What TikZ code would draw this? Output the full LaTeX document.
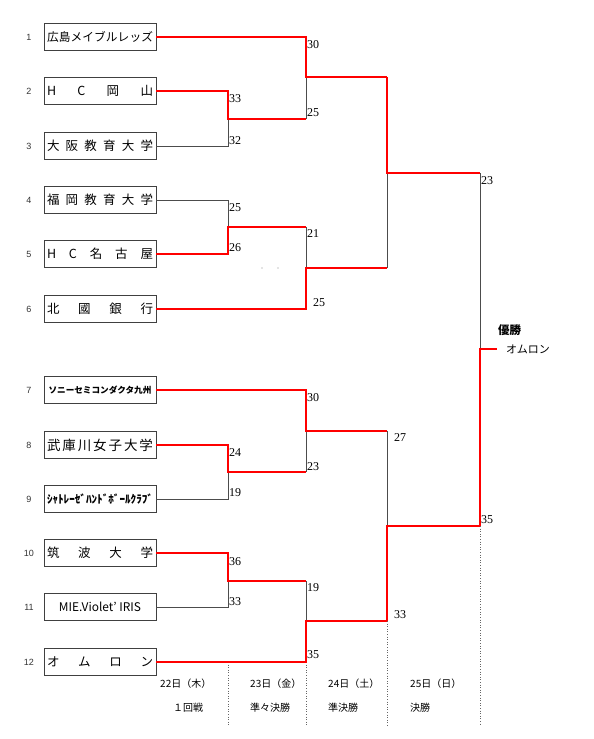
\documentclass[tikz,border=0pt]{standalone}
\usepackage{fontspec}
\usepackage{graphicx}
\newfontfamily\jp{Noto Sans CJK JP}
\newfontfamily\scorefont{Liberation Serif}
\newfontfamily\numfont{Liberation Sans}
\newcommand{\spr}[1]{\makebox[106pt]{#1}}
\tikzset{
  team/.style={draw=black!75, line width=0.9pt, fill=white, minimum width=112pt, minimum height=27pt, inner sep=0pt, font=\jp\fontsize{12.5}{12.5}\selectfont},
  win/.style={draw=red, line width=1.3pt},
  lose/.style={draw=black!70, line width=0.8pt},
  score/.style={anchor=west, inner sep=0pt, font=\scorefont\fontsize{12}{12}\selectfont},
  seed/.style={inner sep=0pt, font=\numfont\fontsize{9}{9}\selectfont, text=black!80},
  day/.style={anchor=west, inner sep=0pt, font=\jp\fontsize{10}{10}\selectfont},
  guide/.style={draw=black!60, line width=0.6pt, dotted},
}
\begin{document}
\begin{tikzpicture}[x=1pt, y=-1pt]
\useasboundingbox (0,0) rectangle (594,739);
% teams
\node[team] (t1) at (100,37) {\fontsize{11.7}{12}\selectfont\spr{広\hfill 島\hfill メ\hfill イ\hfill ブ\hfill ル\hfill レ\hfill ッ\hfill ズ}};
\node[team] (t2) at (100,91) {\spr{H\hfill C\hfill 岡\hfill 山}};
\node[team] (t3) at (100,146) {\spr{大\hfill 阪\hfill 教\hfill 育\hfill 大\hfill 学}};
\node[team] (t4) at (100,200) {\spr{福\hfill 岡\hfill 教\hfill 育\hfill 大\hfill 学}};
\node[team] (t5) at (100,254) {\spr{H\hfill C\hfill 名\hfill 古\hfill 屋}};
\node[team] (t6) at (100,309) {\spr{北\hfill 國\hfill 銀\hfill 行}};
\node[team] (t7) at (100,390) {\bfseries\fontsize{8.6}{9}\selectfont ソニーセミコンダクタ九州};
\node[team] (t8) at (100,445) {\fontsize{13.5}{13.5}\selectfont\spr{武\hfill 庫\hfill 川\hfill 女\hfill 子\hfill 大\hfill 学}};
\node[team] (t9) at (100,499) {\resizebox{106pt}{!}{\bfseries\fontsize{11}{11}\selectfont ｼｬﾄﾚｰｾﾞﾊﾝﾄﾞﾎﾞｰﾙｸﾗﾌﾞ}};
\node[team] (t10) at (100,553) {\spr{筑\hfill 波\hfill 大\hfill 学}};
\node[team] (t11) at (100,607) {\resizebox{82pt}{!}{\fontsize{10}{10}\selectfont MIE.Violet’ IRIS}};
\node[team] (t12) at (100,662) {\spr{オ\hfill ム\hfill ロ\hfill ン}};
% seeds
\node[seed] (n1) at (29,37) {1};
\node[seed] (n2) at (29,91) {2};
\node[seed] (n3) at (29,146) {3};
\node[seed] (n4) at (29,200) {4};
\node[seed] (n5) at (29,254) {5};
\node[seed] (n6) at (29,309) {6};
\node[seed] (n7) at (29,390) {7};
\node[seed] (n8) at (29,445) {8};
\node[seed] (n9) at (29,499) {9};
\node[seed] (n10) at (29,553) {10};
\node[seed] (n11) at (29,607) {11};
\node[seed] (n12) at (29,662) {12};
% junctions
\coordinate (a1) at (228,119);
\coordinate (b1) at (228,227);
\coordinate (c1) at (228,472);
\coordinate (d1) at (228,581);
\coordinate (a2) at (306,77);
\coordinate (b2) at (306,268);
\coordinate (c2) at (306,431);
\coordinate (d2) at (306,621);
\coordinate (a3) at (387,173);
\coordinate (b3) at (387,526);
\coordinate (f) at (480,349);
\coordinate (fe) at (497,349);
\coordinate (g) at (0,726);
% guides
\draw[guide] (t12.east -| a1) -- (g -| a1);
\draw[guide] (t12.east -| d2) -- (g -| d2);
\draw[guide] (d2 -| b3) -- (g -| b3);
\draw[guide] (b3 -| f) -- (g -| f);
% losing lines
\draw[lose] (t3.east) -| (a1);
\draw[lose] (t4.east) -| (b1);
\draw[lose] (t9.east) -| (c1);
\draw[lose] (t11.east) -| (d1);
\draw[lose] (a2) -- (a1 -| a2);
\draw[lose] (b1 -| b2) -- (b2);
\draw[lose] (c2) -- (c1 -| c2);
\draw[lose] (d1 -| d2) -- (d2);
\draw[lose] (a3) -- (b2 -| a3);
\draw[lose] (c2 -| b3) -- (b3);
\draw[lose] (a3 -| f) -- (f);
% winning lines
\draw[win] (t2.east) -| (a1) -- (a1 -| a2);
\draw[win] (t5.east) -| (b1) -- (b1 -| b2);
\draw[win] (t8.east) -| (c1) -- (c1 -| c2);
\draw[win] (t10.east) -| (d1) -- (d1 -| d2);
\draw[win] (t1.east) -| (a2) -- (a2 -| a3);
\draw[win] (t6.east) -| (b2) -- (b2 -| a3);
\draw[win] (t7.east) -| (c2) -- (c2 -| b3);
\draw[win] (t12.east) -| (d2) -- (d2 -| b3);
\draw[win] (a2 -| a3) -- (a3) -- (a3 -| f);
\draw[win] (d2 -| b3) -- (b3) -- (b3 -| f);
\draw[win] (b3 -| f) -- (f) -- (fe);
% scores
\node[score] (s1) at (229,99) {33};
\node[score] (s2) at (229,141) {32};
\node[score] (s3) at (229,208) {25};
\node[score] (s4) at (229,248) {26};
\node[score] (s5) at (229,453) {24};
\node[score] (s6) at (229,493) {19};
\node[score] (s7) at (229,562) {36};
\node[score] (s8) at (229,602) {33};
\node[score] (s9) at (307,45) {30};
\node[score] (s10) at (307,113) {25};
\node[score] (s11) at (307,234) {21};
\node[score] (s12) at (313,303) {25};
\node[score] (s13) at (307,398) {30};
\node[score] (s14) at (307,467) {23};
\node[score] (s15) at (307,588) {19};
\node[score] (s16) at (307,655) {35};
\node[score] (s17) at (394,438) {27};
\node[score] (s18) at (394,615) {33};
\node[score] (s19) at (481,181) {23};
\node[score] (s20) at (481,520) {35};
% stray dots
\fill[black!45] (262,268) circle (0.6);
\fill[black!45] (278,268) circle (0.6);
% champion
\node[anchor=west, inner sep=0pt, font=\jp\bfseries\fontsize{11.5}{12}\selectfont] (champ) at (498,330) {優勝};
\node[anchor=west, inner sep=0pt, font=\jp\fontsize{11}{12}\selectfont] (winner) at (506,349) {オムロン};
% days
\node[day] (d22) at (160,684) {22日（木）};
\node[day] (r1) at (173,708) {１回戦};
\node[day] (d23) at (250,684) {23日（金）};
\node[day] (r2) at (250,708) {準々決勝};
\node[day] (d24) at (328,684) {24日（土）};
\node[day] (r3) at (328,708) {準決勝};
\node[day] (d25) at (410,684) {25日（日）};
\node[day] (r4) at (410,708) {決勝};
\end{tikzpicture}
\end{document}
